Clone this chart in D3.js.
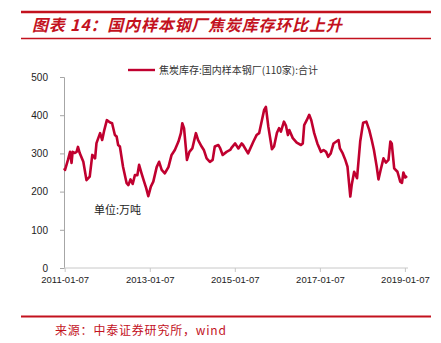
<!DOCTYPE html>
<html><head><meta charset="utf-8">
<script src="https://cdn.jsdelivr.net/npm/d3@7"></script>
<style>body{margin:0;background:#fff}svg{display:block}</style>
</head><body>
<script>
const titleText = "图表 14：国内样本钢厂焦炭库存环比上升";
const sourceText = "来源：中泰证券研究所，wind";
const seriesName = "焦炭库存:国内样本钢厂(110家):合计";
const unitText = "单位:万吨";
const yTicks = [0, 100, 200, 300, 400, 500];
const xTickDates = ["2011-01-07", "2013-01-07", "2015-01-07", "2017-01-07", "2019-01-07"];
const dates = ["2011-01-01","2011-01-10","2011-02-04","2011-02-22","2011-03-07","2011-03-16","2011-04-04","2011-04-19","2011-05-01","2011-05-16","2011-06-16","2011-07-13","2011-08-10","2011-09-01","2011-09-25","2011-10-07","2011-11-07","2011-11-25","2011-12-13","2012-01-04","2012-02-01","2012-02-18","2012-03-13","2012-03-28","2012-04-10","2012-04-25","2012-05-22","2012-06-22","2012-07-07","2012-07-25","2012-08-13","2012-09-01","2012-09-22","2012-10-07","2012-10-28","2012-11-19","2012-12-07","2012-12-25","2013-01-16","2013-02-06","2013-03-07","2013-03-28","2013-04-19","2013-05-16","2013-06-16","2013-07-13","2013-08-10","2013-09-10","2013-10-01","2013-10-13","2013-10-28","2013-11-22","2013-12-13","2014-01-07","2014-02-07","2014-02-26","2014-03-28","2014-04-16","2014-05-10","2014-06-07","2014-07-01","2014-07-19","2014-08-19","2014-09-04","2014-09-25","2014-10-28","2014-11-28","2014-12-13","2015-01-10","2015-02-07","2015-03-07","2015-03-19","2015-05-01","2015-06-16","2015-07-13","2015-08-04","2015-08-25","2015-09-16","2015-10-01","2015-10-22","2015-11-22","2015-12-10","2016-01-04","2016-01-22","2016-02-07","2016-03-04","2016-03-22","2016-04-07","2016-04-19","2016-05-19","2016-06-22","2016-07-28","2016-08-13","2016-08-25","2016-09-16","2016-10-07","2016-10-25","2016-11-19","2016-12-16","2017-01-16","2017-02-07","2017-03-01","2017-03-19","2017-04-10","2017-05-04","2017-06-16","2017-06-28","2017-07-22","2017-08-13","2017-09-01","2017-09-25","2017-10-07","2017-10-28","2017-11-22","2017-12-19","2018-01-13","2018-02-10","2018-03-07","2018-03-28","2018-04-16","2018-05-10","2018-05-25","2018-06-13","2018-07-07","2018-07-28","2018-08-19","2018-09-04","2018-09-16","2018-10-07","2018-11-04","2018-11-28","2018-12-13","2018-12-25","2019-01-10","2019-01-25"];
const values = [261,257,283,304,275,304,301,304,317,301,278,230,239,296,287,327,353,335,361,387,381,379,348,344,322,318,265,222,217,232,220,243,243,270,248,226,209,188,213,226,264,278,257,248,264,296,309,331,353,379,366,283,304,313,353,335,318,309,287,278,283,318,322,313,296,304,309,316,326,313,326,322,300,331,348,353,383,414,422,370,311,318,354,366,357,383,372,348,361,340,328,322,326,374,387,401,387,353,326,304,309,304,291,300,326,335,313,300,283,265,187,217,252,235,331,380,383,361,335,309,265,232,257,287,276,283,331,326,261,252,226,223,250,237,241];

const W = 441, H = 343;
const red = "#c3121e";
const cjk = "'Noto Sans CJK SC', sans-serif";
const svg = d3.select("body").append("svg").attr("width", W).attr("height", H);

// frame lines
svg.append("line").attr("x1", 21).attr("x2", 431).attr("y1", 12).attr("y2", 12).attr("stroke", red).attr("stroke-width", 2.5);
svg.append("line").attr("x1", 21).attr("x2", 431).attr("y1", 38.5).attr("y2", 38.5).attr("stroke", red).attr("stroke-width", 1.5);
svg.append("line").attr("x1", 21).attr("x2", 431).attr("y1", 316.5).attr("y2", 316.5).attr("stroke", red).attr("stroke-width", 2);

svg.append("text").attr("x", 32).attr("y", 31).text(titleText)
  .attr("font-family", cjk).attr("font-size", 16).attr("font-style", "italic").attr("font-weight", "bold")
  .attr("letter-spacing", 0.8).attr("fill", red);
svg.append("text").attr("x", 55).attr("y", 335).text(sourceText)
  .attr("font-family", cjk).attr("font-size", 12).attr("letter-spacing", 0.8).attr("fill", red);

const parse = d3.timeParse("%Y-%m-%d");
const data = dates.map((d, i) => ({date: parse(d), value: values[i]}));

const x = d3.scaleTime().domain([parse(dates[0]), parse(dates[dates.length - 1])]).range([64, 407]);
const y = d3.scaleLinear().domain([0, 500]).range([268, 77]);

// y axis
const yAxis = svg.append("g").attr("transform", "translate(64,0)")
  .call(d3.axisLeft(y).tickValues(yTicks).tickSize(4).tickPadding(12).tickFormat(d3.format("d")));
yAxis.select(".domain").attr("stroke", "#a6a6a6");
yAxis.selectAll(".tick line").attr("stroke", "#a6a6a6");
yAxis.selectAll("text").attr("font-family", "'Liberation Sans', Arial, sans-serif").attr("font-size", 10).attr("fill", "#222");

// x axis
const xAxis = svg.append("g").attr("transform", "translate(0,268)")
  .call(d3.axisBottom(x).tickValues(xTickDates.map(parse)).tickSize(4).tickSizeOuter(0).tickPadding(4)
    .tickFormat(d3.timeFormat("%Y-%m-%d")));
xAxis.select(".domain").attr("stroke", "#c8c8c8").attr("d", "M64,0H408");
xAxis.selectAll(".tick line").attr("stroke", "#c8c8c8");
xAxis.selectAll("text").attr("font-family", "'Liberation Sans', Arial, sans-serif").attr("font-size", 9.5).attr("fill", "#222");

// line
svg.append("path").datum(data)
  .attr("d", d3.line().x(d => x(d.date)).y(d => y(d.value)))
  .attr("fill", "none").attr("stroke", "#c0002f").attr("stroke-width", 2.6).attr("stroke-linejoin", "round");

// legend
svg.append("line").attr("x1", 128).attr("x2", 155).attr("y1", 70).attr("y2", 70).attr("stroke", "#c0002f").attr("stroke-width", 2.4);
svg.append("text").attr("x", 159).attr("y", 73.5).text(seriesName)
  .attr("font-family", cjk).attr("font-size", 10).attr("fill", "#333");

// unit
svg.append("text").attr("x", 94).attr("y", 214).text(unitText)
  .attr("font-family", cjk).attr("font-size", 11).attr("fill", "#222");
</script>
</body></html>
